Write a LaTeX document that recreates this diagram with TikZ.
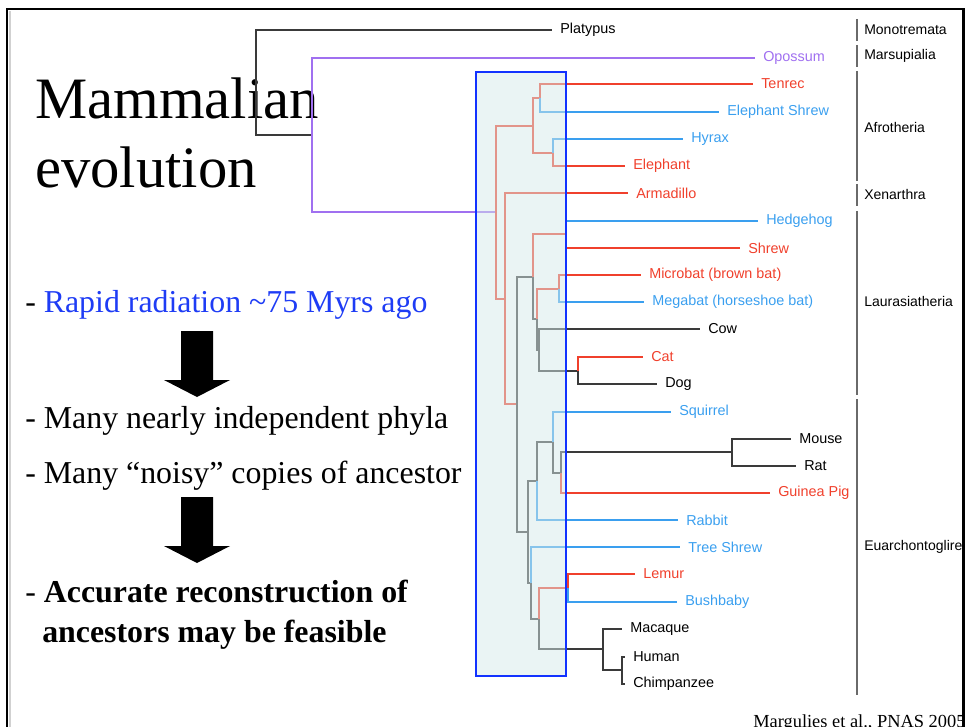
\documentclass[tikz,border=0pt]{standalone}
\usepackage{fontspec}
\setmainfont{Liberation Serif}
\newfontfamily\treefont{Liberation Sans}
\usetikzlibrary{positioning}
\definecolor{treered}{HTML}{F0402C}
\definecolor{treeblue}{HTML}{3A9FEF}
\definecolor{treepurple}{HTML}{A070F0}
\definecolor{treegray}{HTML}{3A3A3A}
\definecolor{cladegray}{HTML}{6A6A6A}
\definecolor{radblue}{HTML}{1E3CF5}
\definecolor{boxblue}{HTML}{1232FF}
\definecolor{boxfill}{HTML}{D5E9E9}

\begin{document}
\begin{tikzpicture}[x=0.75pt,y=-0.75pt,
  leaf/.style={anchor=west,inner xsep=6pt,inner ysep=1pt,font=\treefont\fontsize{10.8}{12}\selectfont},
  redleaf/.style={leaf,text=treered},
  blueleaf/.style={leaf,text=treeblue},
  blackleaf/.style={leaf,text=black},
  purpleleaf/.style={leaf,text=treepurple},
  branch/.style={line width=0.9pt},
  redbranch/.style={branch,draw=treered},
  bluebranch/.style={branch,draw=treeblue},
  graybranch/.style={branch,draw=treegray},
  purplebranch/.style={branch,draw=treepurple},
  clade/.style={anchor=west,inner sep=0pt,font=\treefont\fontsize{10.5}{12}\selectfont},
  cladebar/.style={draw=cladegray,line width=1.5pt},
  heading/.style={anchor=base west,inner sep=0pt,font=\fontsize{44}{50}\selectfont},
  bullet/.style={anchor=base west,inner sep=0pt,font=\fontsize{23.9}{28}\selectfont}]
  \useasboundingbox (0,0) rectangle (966,727);
  \clip (0,0) rectangle (966,727);
  \node[heading] (ttla) at (35,119) {Mammalian};
  \node[heading] (ttlb) at (35,188) {evolution};
  \node[bullet] (rapid) at (25,312) {- \textcolor{radblue}{Rapid radiation \textasciitilde75 Myrs ago}};
  \node[bullet] (phyla) at (25,428) {- Many nearly independent phyla};
  \node[bullet] (noisy) at (25,483) {- Many “noisy” copies of ancestor};
  \node[bullet] (accur) at (25,602) {- \textbf{Accurate reconstruction of}};
  \node[bullet] (feas) at (42,642) {\textbf{ancestors may be feasible}};
  \fill (181,331) -- (213,331) -- (213,380) -- (230,380) -- (197,397) -- (164,380) -- (181,380) -- cycle;
  \fill (181,497) -- (213,497) -- (213,546) -- (230,546) -- (197,563) -- (164,546) -- (181,546) -- cycle;
  \coordinate (root) at (256,83);
  \coordinate (theria) at (312,135);
  \coordinate (eutheria) at (496,212);
  \coordinate (afro) at (533,126);
  \coordinate (tenshrew) at (540,98);
  \coordinate (paenung) at (553,153);
  \coordinate (exafro) at (505,299);
  \coordinate (boreo) at (517,404);
  \coordinate (laura) at (533,277);
  \coordinate (eulipo) at (566,234);
  \coordinate (scrot) at (537,319);
  \coordinate (chiro) at (559,289);
  \coordinate (fereu) at (539,350);
  \coordinate (carniv) at (578,371);
  \coordinate (euarch) at (528,532);
  \coordinate (glires) at (537,481);
  \coordinate (rodent) at (553,442);
  \coordinate (rodentb) at (561,473);
  \coordinate (murid) at (732,452);
  \coordinate (euarchonta) at (531,583);
  \coordinate (primate) at (539,619);
  \coordinate (strep) at (568,588);
  \coordinate (catarrh) at (603,649);
  \coordinate (homin) at (622,670);
  \node[blackleaf] (platypus) at (552,30) {Platypus};
  \node[purpleleaf] (opossum) at (755,58) {Opossum};
  \node[redleaf] (tenrec) at (753,84) {Tenrec};
  \node[blueleaf] (eshrew) at (719,112) {Elephant Shrew};
  \node[blueleaf] (hyrax) at (683,139) {Hyrax};
  \node[redleaf] (elephant) at (625,166) {Elephant};
  \node[redleaf] (armadillo) at (628,193) {Armadillo};
  \node[blueleaf] (hedgehog) at (758,221) {Hedgehog};
  \node[redleaf] (shrew) at (740,248) {Shrew};
  \node[redleaf] (microbat) at (641,275) {Microbat (brown bat)};
  \node[blueleaf] (megabat) at (644,302) {Megabat (horseshoe bat)};
  \node[blackleaf] (cow) at (700,329) {Cow};
  \node[redleaf] (cat) at (643,357) {Cat};
  \node[blackleaf] (dog) at (657,384) {Dog};
  \node[blueleaf] (squirrel) at (671,412) {Squirrel};
  \node[blackleaf] (mouse) at (791,439) {Mouse};
  \node[blackleaf] (rat) at (796,466) {Rat};
  \node[redleaf] (guinea) at (770,493) {Guinea Pig};
  \node[blueleaf] (rabbit) at (678,520) {Rabbit};
  \node[blueleaf] (treeshrew) at (680,547) {Tree Shrew};
  \node[redleaf] (lemur) at (635,574) {Lemur};
  \node[blueleaf] (bushbaby) at (677,602) {Bushbaby};
  \node[blackleaf] (macaque) at (622,629) {Macaque};
  \node[blackleaf] (human) at (625,657) {Human};
  \node[blackleaf] (chimp) at (625,684) {Chimpanzee};
  \draw[graybranch] (root) |- (platypus.west);
  \draw[graybranch] (root) |- (theria);
  \draw[purplebranch] (theria) |- (opossum.west);
  \draw[purplebranch] (theria) |- (eutheria);
  \draw[redbranch] (eutheria) |- (afro);
  \draw[redbranch] (eutheria) |- (exafro);
  \draw[redbranch] (afro) |- (tenshrew);
  \draw[redbranch] (afro) |- (paenung);
  \draw[redbranch] (tenshrew) |- (tenrec.west);
  \draw[bluebranch] (tenshrew) |- (eshrew.west);
  \draw[bluebranch] (paenung) |- (hyrax.west);
  \draw[redbranch] (paenung) |- (elephant.west);
  \draw[redbranch] (exafro) |- (armadillo.west);
  \draw[redbranch] (exafro) |- (boreo);
  \draw[graybranch] (boreo) |- (laura);
  \draw[graybranch] (boreo) |- (euarch);
  \draw[redbranch] (laura) |- (eulipo);
  \draw[graybranch] (laura) |- (scrot);
  \draw[bluebranch] (eulipo) |- (hedgehog.west);
  \draw[redbranch] (eulipo) |- (shrew.west);
  \draw[redbranch] (scrot) |- (chiro);
  \draw[graybranch] (scrot) |- (fereu);
  \draw[redbranch] (chiro) |- (microbat.west);
  \draw[bluebranch] (chiro) |- (megabat.west);
  \draw[graybranch] (fereu) |- (cow.west);
  \draw[graybranch] (fereu) |- (carniv);
  \draw[redbranch] (carniv) |- (cat.west);
  \draw[graybranch] (carniv) |- (dog.west);
  \draw[graybranch] (euarch) |- (glires);
  \draw[graybranch] (euarch) |- (euarchonta);
  \draw[graybranch] (glires) |- (rodent);
  \draw[bluebranch] (glires) |- (rabbit.west);
  \draw[bluebranch] (rodent) |- (squirrel.west);
  \draw[graybranch] (rodent) |- (rodentb);
  \draw[graybranch] (rodentb) |- (murid);
  \draw[redbranch] (rodentb) |- (guinea.west);
  \draw[graybranch] (murid) |- (mouse.west);
  \draw[graybranch] (murid) |- (rat.west);
  \draw[bluebranch] (euarchonta) |- (treeshrew.west);
  \draw[graybranch] (euarchonta) |- (primate);
  \draw[redbranch] (primate) |- (strep);
  \draw[graybranch] (primate) |- (catarrh);
  \draw[redbranch] (strep) |- (lemur.west);
  \draw[bluebranch] (strep) |- (bushbaby.west);
  \draw[graybranch] (catarrh) |- (macaque.west);
  \draw[graybranch] (catarrh) |- (homin);
  \draw[graybranch] (homin) |- (human.west);
  \draw[graybranch] (homin) |- (chimp.west);
  \draw[draw=boxblue,line width=2.2pt,fill=boxfill,fill opacity=0.5] (476,72) rectangle (566,676);
  \node[clade] (mono) at (864,30) {Monotremata};
  \node[clade] (marsu) at (864,56) {Marsupialia};
  \node[clade] (afroth) at (864,127) {Afrotheria};
  \node[clade] (xenar) at (864,194) {Xenarthra};
  \node[clade] (laurasia) at (864,301) {Laurasiatheria};
  \node[clade] (euarchg) at (864,547) {Euarchontoglire};
  \draw[cladebar] (857,19) -- (857,41);
  \draw[cladebar] (857,45) -- (857,67);
  \draw[cladebar] (857,71) -- (857,181);
  \draw[cladebar] (857,184) -- (857,206);
  \draw[cladebar] (857,211) -- (857,395);
  \draw[cladebar] (857,399) -- (857,695);
  \node[anchor=base west,inner sep=0pt,font=\fontsize{13.8}{16}\selectfont] (cite) at (753,727) {Margulies et al., PNAS 2005};
  \draw[black!18,line width=1.5pt] (10,11) -- (10,727);
  \draw[line width=2pt] (7,727) -- (7,9) -- (963.5,9) -- (963.5,727);
\end{tikzpicture}
\end{document}
